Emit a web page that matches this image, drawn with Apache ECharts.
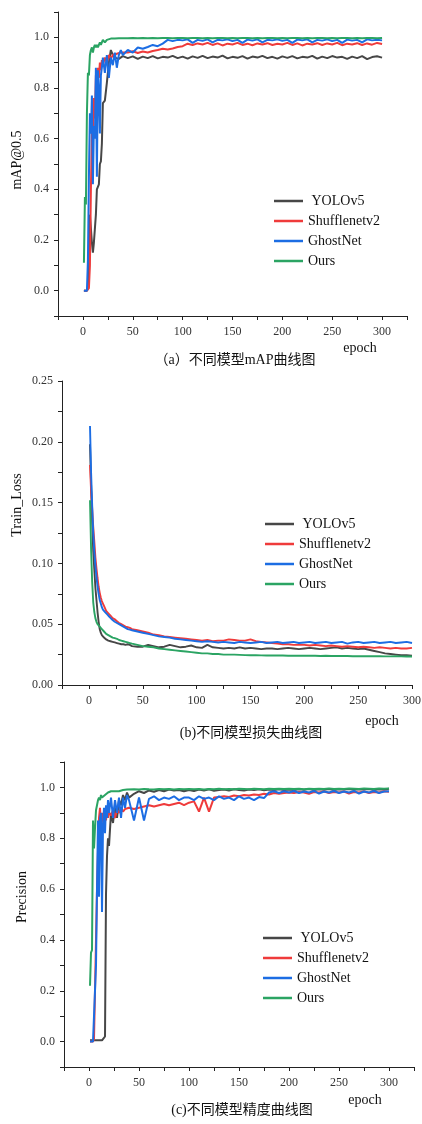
<!DOCTYPE html>
<html><head><meta charset="utf-8">
<script src="https://cdn.jsdelivr.net/npm/echarts@6/dist/echarts.min.js"></script>
<style>html,body{margin:0;padding:0;background:#fff}#c{width:422px;height:1124px}</style>
</head><body><div id="c"></div>
<script>
const seriesNames = ['YOLOv5', 'Shufflenetv2', 'GhostNet', 'Ours'];
const epochs = [1,2,3,4,5,6,7,8,9,10,11,12,13,14,15,16,17,18,19,20,
  22,24,26,28,30,32,34,36,38,40,
  45,50,55,60,65,70,75,80,85,90,95,
  100,105,110,115,120,125,130,135,140,145,150,155,160,165,170,175,180,185,190,195,
  200,205,210,215,220,225,230,235,240,245,250,255,260,265,270,275,280,285,290,295,300];

// (a) mAP@0.5
const mapYOLO = [0,0,0,0,0.01,0.05,0.30,0.30,0.19,0.15,0.19,0.19,0.30,0.40,0.41,0.42,0.50,0.51,0.58,0.74,
  0.75,0.82,0.90,0.95,0.93,0.92,0.925,0.915,0.922,0.926,
  0.918,0.925,0.915,0.924,0.918,0.926,0.917,0.923,0.92,0.927,0.918,
  0.924,0.916,0.925,0.919,0.927,0.918,0.924,0.92,0.928,0.917,0.923,0.919,0.926,0.916,0.924,0.92,0.927,0.918,0.923,0.916,
  0.925,0.919,0.926,0.917,0.923,0.92,0.927,0.916,0.924,0.918,0.926,0.92,0.923,0.915,0.924,0.918,0.926,0.914,0.922,0.925,0.92];
const mapShuffle = [0,0,0,0,0,0.01,0.10,0.40,0.63,0.60,0.76,0.68,0.85,0.80,0.88,0.84,0.90,0.87,0.91,0.89,
  0.92,0.90,0.93,0.915,0.93,0.925,0.935,0.93,0.94,0.935,
  0.94,0.945,0.938,0.944,0.94,0.946,0.95,0.955,0.952,0.956,0.962,
  0.965,0.975,0.97,0.976,0.972,0.978,0.97,0.976,0.968,0.975,0.972,0.978,0.97,0.975,0.969,0.976,0.972,0.977,0.97,0.975,
  0.972,0.978,0.97,0.976,0.968,0.975,0.972,0.977,0.97,0.976,0.972,0.978,0.969,0.975,0.972,0.977,0.97,0.976,0.971,0.978,0.974];
const mapGhost = [0,0,0,0,0.12,0.45,0.70,0.62,0.77,0.42,0.65,0.60,0.88,0.45,0.87,0.80,0.62,0.85,0.88,0.92,
  0.86,0.93,0.84,0.92,0.89,0.94,0.88,0.93,0.95,0.93,
  0.95,0.94,0.96,0.955,0.962,0.97,0.965,0.975,0.99,0.985,0.99,
  0.988,0.992,0.978,0.99,0.986,0.992,0.98,0.99,0.988,0.992,0.985,0.99,0.978,0.991,0.987,0.992,0.98,0.99,0.988,0.992,
  0.986,0.99,0.978,0.991,0.988,0.992,0.98,0.99,0.987,0.992,0.985,0.99,0.978,0.991,0.987,0.99,0.98,0.992,0.988,0.99,0.988];
const mapOurs = [0.11,0.37,0.34,0.70,0.86,0.85,0.93,0.95,0.96,0.94,0.96,0.97,0.96,0.97,0.96,0.97,0.98,0.97,0.98,0.99,
  0.98,0.99,0.99,0.995,0.99,0.995,0.995,0.996,0.995,0.996,
  0.996,0.997,0.996,0.997,0.996,0.997,0.996,0.997,0.997,0.996,0.997,
  0.997,0.996,0.997,0.997,0.996,0.997,0.996,0.997,0.997,0.996,0.997,0.996,0.997,0.997,0.996,0.997,0.996,0.997,0.997,0.996,
  0.997,0.996,0.997,0.997,0.996,0.997,0.996,0.997,0.997,0.996,0.997,0.996,0.997,0.997,0.996,0.997,0.996,0.997,0.997,0.996,0.997];

// (b) Train_Loss
const lossYOLO = [0.198,0.165,0.135,0.11,0.095,0.08,0.07,0.06,0.052,0.046,0.043,0.041,0.040,0.039,0.038,0.0375,0.037,0.0365,0.036,0.036,
  0.0355,0.035,0.0345,0.034,0.0335,0.0335,0.033,0.0335,0.033,0.032,
  0.0315,0.0315,0.033,0.032,0.031,0.0315,0.033,0.032,0.031,0.0315,0.0325,
  0.031,0.0305,0.033,0.031,0.0305,0.030,0.0305,0.030,0.031,0.030,0.0305,0.030,0.0295,0.030,0.030,0.0295,0.030,0.0305,0.030,0.0295,
  0.030,0.0305,0.030,0.0295,0.030,0.0305,0.031,0.030,0.0305,0.030,0.0295,0.030,0.029,0.028,0.027,0.026,0.0255,0.025,0.0245,0.0245,0.024];
const lossShuffle = [0.181,0.16,0.145,0.13,0.118,0.105,0.096,0.088,0.081,0.076,0.072,0.069,0.067,0.065,0.063,0.061,0.060,0.059,0.058,0.057,
  0.055,0.054,0.0525,0.051,0.050,0.049,0.048,0.0475,0.047,0.046,
  0.045,0.044,0.043,0.0415,0.041,0.040,0.0395,0.039,0.0385,0.038,0.0375,
  0.037,0.0365,0.037,0.036,0.0365,0.0365,0.0375,0.037,0.0365,0.0365,0.0375,0.036,0.0355,0.035,0.0345,0.034,0.0335,0.0335,0.033,0.033,
  0.033,0.0325,0.033,0.0325,0.032,0.0325,0.032,0.0315,0.032,0.0315,0.031,0.0315,0.031,0.0305,0.031,0.0305,0.030,0.0305,0.030,0.030,0.0305];
const lossGhost = [0.213,0.175,0.148,0.125,0.11,0.098,0.089,0.081,0.075,0.070,0.067,0.064,0.062,0.061,0.060,0.059,0.058,0.057,0.056,0.055,
  0.0535,0.052,0.051,0.050,0.049,0.048,0.047,0.046,0.0455,0.045,
  0.044,0.043,0.042,0.041,0.040,0.0395,0.039,0.038,0.0375,0.037,0.0365,
  0.036,0.0355,0.036,0.0355,0.035,0.0355,0.035,0.0345,0.0355,0.035,0.0345,0.035,0.0355,0.0345,0.035,0.0355,0.0345,0.035,0.0355,0.0345,
  0.035,0.0355,0.0345,0.035,0.0355,0.0345,0.035,0.0355,0.034,0.035,0.0355,0.0345,0.035,0.0355,0.0345,0.035,0.0355,0.0345,0.035,0.0355,0.0345];
const lossOurs = [0.152,0.112,0.085,0.068,0.060,0.055,0.052,0.050,0.049,0.048,0.047,0.046,0.045,0.044,0.043,0.042,0.042,0.041,0.041,0.040,
  0.039,0.0385,0.038,0.037,0.0365,0.036,0.0355,0.035,0.0345,0.034,
  0.033,0.032,0.0315,0.031,0.030,0.0295,0.029,0.0285,0.028,0.0275,0.027,
  0.0265,0.026,0.026,0.0255,0.0255,0.025,0.025,0.025,0.0248,0.0246,0.0245,0.0245,0.0244,0.0243,0.0243,0.0242,0.0242,0.0241,0.0241,0.024,
  0.024,0.0241,0.024,0.0239,0.024,0.0239,0.0238,0.0239,0.0238,0.0237,0.0237,0.0236,0.0237,0.0236,0.0236,0.0235,0.0235,0.0236,0.0235,0.0234,0.0234];

// (c) Precision
const precYOLO = [0.005,0.005,0.005,0.005,0.005,0.005,0.005,0.005,0.005,0.005,0.005,0.005,0.005,0.005,0.006,0.02,0.58,0.73,0.80,0.77,
  0.90,0.86,0.93,0.88,0.95,0.93,0.97,0.95,0.98,0.96,
  0.975,0.985,0.978,0.988,0.983,0.99,0.985,0.992,0.988,0.99,0.985,
  0.99,0.986,0.992,0.988,0.993,0.987,0.99,0.992,0.988,0.993,0.99,0.988,0.992,0.99,0.993,0.989,0.992,0.99,0.993,0.99,
  0.992,0.99,0.993,0.991,0.994,0.99,0.993,0.991,0.994,0.99,0.993,0.992,0.994,0.991,0.993,0.992,0.994,0.99,0.993,0.992,0.995];
const precShuffle = [0,0,0,0,0.01,0.20,0.40,0.60,0.75,0.88,0.92,0.85,0.88,0.90,0.85,0.90,0.87,0.91,0.88,0.90,
  0.89,0.91,0.88,0.91,0.90,0.92,0.905,0.915,0.91,0.92,
  0.915,0.92,0.925,0.93,0.925,0.93,0.935,0.93,0.935,0.94,0.93,
  0.94,0.945,0.905,0.96,0.905,0.96,0.962,0.965,0.962,0.968,0.965,0.97,0.968,0.972,0.97,0.975,0.972,0.978,0.975,0.978,
  0.98,0.978,0.982,0.98,0.975,0.982,0.98,0.984,0.978,0.982,0.98,0.984,0.976,0.982,0.98,0.984,0.978,0.982,0.98,0.985,0.983];
const precGhost = [0,0,0,0,0,0,0.30,0.60,0.87,0.57,0.88,0.90,0.51,0.85,0.92,0.82,0.93,0.88,0.95,0.90,
  0.96,0.88,0.95,0.90,0.96,0.88,0.96,0.92,0.97,0.95,
  0.87,0.96,0.87,0.955,0.965,0.95,0.96,0.955,0.965,0.95,0.96,
  0.96,0.95,0.965,0.955,0.96,0.95,0.965,0.955,0.96,0.95,0.965,0.955,0.96,0.95,0.962,0.958,0.98,0.985,0.978,0.985,
  0.98,0.986,0.978,0.984,0.98,0.986,0.976,0.984,0.98,0.986,0.978,0.984,0.98,0.986,0.976,0.984,0.98,0.986,0.978,0.984,0.985];
const precOurs = [0.22,0.35,0.36,0.87,0.76,0.84,0.91,0.93,0.95,0.96,0.95,0.97,0.96,0.965,0.96,0.97,0.975,0.97,0.98,0.98,
  0.985,0.98,0.985,0.99,0.985,0.99,0.99,0.99,0.992,0.99,
  0.993,0.992,0.994,0.993,0.992,0.994,0.993,0.994,0.992,0.994,0.993,
  0.994,0.993,0.994,0.992,0.994,0.993,0.995,0.993,0.994,0.993,0.995,0.994,0.993,0.995,0.994,0.993,0.995,0.994,0.995,0.994,
  0.995,0.994,0.995,0.993,0.995,0.994,0.995,0.994,0.996,0.994,0.995,0.994,0.996,0.995,0.994,0.996,0.995,0.994,0.996,0.995,0.996];

const colors = ['#474747', '#ef3b3b', '#1c6de3', '#2ba463'];
const SERIF = "'Liberation Serif','Times New Roman','Noto Sans CJK SC',serif";

const panels = [
  {data:[mapYOLO,mapShuffle,mapGhost,mapOurs], grid:{left:58,top:12,width:349,height:304},
   x:{min:-25,max:325}, y:{min:-0.1,max:1.1,interval:0.1}, yfmt:v=>{const k=Math.round(v*10);return (k%2===0&&k>=0&&k<=10)?(k/10).toFixed(1):'';},
   legend:{left:274,top:193}, lw:2},
  {data:[lossYOLO,lossShuffle,lossGhost,lossOurs], grid:{left:62,top:381,width:350,height:304},
   x:{min:-25,max:300}, y:{min:0,max:0.25,interval:0.025}, yfmt:v=>{const k=Math.round(v*1000);return (k%50===0)?(k/1000).toFixed(2):'';},
   legend:{left:265,top:516}, lw:1.9},
  {data:[precYOLO,precShuffle,precGhost,precOurs], grid:{left:64,top:762,width:350,height:305},
   x:{min:-25,max:325}, y:{min:-0.1,max:1.1,interval:0.1}, yfmt:v=>{const k=Math.round(v*10);return (k%2===0&&k>=0&&k<=10)?(k/10).toFixed(1):'';},
   legend:{left:263,top:930}, lw:2}
];

const axisCommon = {
  axisLine:{show:true,onZero:false,lineStyle:{color:'#222',width:1}},
  axisTick:{show:true,length:4,lineStyle:{color:'#222',width:1}},
  splitLine:{show:false}
};

const option = {
  animation:false,
  backgroundColor:'#fff',
  grid: panels.map(p=>Object.assign({outerBoundsMode:'none',containLabel:false}, p.grid)),
  xAxis: panels.map((p,i)=>Object.assign({}, axisCommon, {
    type:'value', gridIndex:i, min:p.x.min, max:p.x.max, interval:25,
    axisLabel:{margin:10,color:'#333',fontSize:12,fontFamily:SERIF,
      formatter:v=>(v%50===0&&v>=0&&v<=300)?String(v):''}
  })),
  yAxis: panels.map((p,i)=>Object.assign({}, axisCommon, {
    type:'value', gridIndex:i, min:p.y.min, max:p.y.max, interval:p.y.interval,
    axisLabel:{margin:9,color:'#333',fontSize:12,fontFamily:SERIF,formatter:p.yfmt}
  })),
  legend: panels.map(p=>({
    show:true, orient:'vertical', left:p.legend.left, top:p.legend.top,
    data:seriesNames, icon:'rect', itemWidth:29, itemHeight:2.5, itemGap:4,
    selectedMode:false, padding:0,
    formatter:n=>n==='YOLOv5'?' YOLOv5':n,
    textStyle:{fontSize:14,fontFamily:SERIF,color:'#111',lineHeight:16}
  })),
  series: []
};

panels.forEach((p,pi)=>{
  p.data.forEach((arr,si)=>{
    option.series.push({
      type:'line', name:seriesNames[si], xAxisIndex:pi, yAxisIndex:pi,
      data: epochs.map((e,k)=>[e, arr[k]]),
      showSymbol:false, symbol:'none', smooth:false,
      lineStyle:{color:colors[si], width:p.lw},
      itemStyle:{color:colors[si]},
      emphasis:{disabled:true}
    });
  });
});

const txt = (x,y,text,extra)=>Object.assign({type:'text',x:x,y:y,style:{text:text,fontSize:14,fontFamily:SERIF,fill:'#111',textAlign:'center',textVerticalAlign:'middle'}}, extra||{});
option.graphic = [
  txt(17,160,'mAP@0.5',{rotation:Math.PI/2}),
  txt(17,505,'Train_Loss',{rotation:Math.PI/2}),
  txt(22,897,'Precision',{rotation:Math.PI/2}),
  txt(360,348,'epoch'),
  txt(382,721,'epoch'),
  txt(365,1100,'epoch'),
  txt(235,360,'（a）不同模型mAP曲线图'),
  txt(251,733,'(b)不同模型损失曲线图'),
  txt(242,1110,'(c)不同模型精度曲线图')
];

const chart = echarts.init(document.getElementById('c'), null, {renderer:'canvas'});
chart.setOption(option);
</script></body></html>
